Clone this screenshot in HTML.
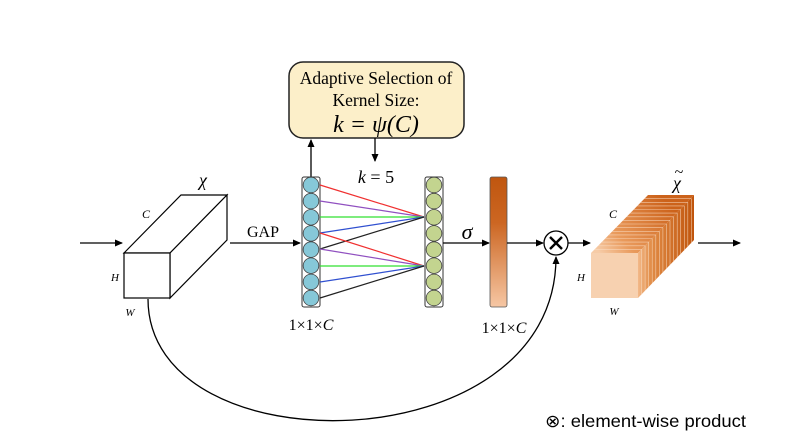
<!DOCTYPE html>
<html><head><meta charset="utf-8"><style>body{margin:0;background:#fff}svg{display:block}</style></head><body>
<svg width="808" height="448" viewBox="0 0 808 448" xmlns="http://www.w3.org/2000/svg" font-family="Liberation Serif, serif">
<defs>
<marker id="a" markerWidth="8" markerHeight="8" refX="7" refY="4" orient="auto" markerUnits="userSpaceOnUse"><path d="M0,0.5 L8,4 L0,7.5 Z" fill="#000"/></marker>
<linearGradient id="bar" x1="0" y1="0" x2="0" y2="1"><stop offset="0" stop-color="#c0560f"/><stop offset="0.35" stop-color="#cc6622"/><stop offset="1" stop-color="#f6c7a4"/></linearGradient>
<linearGradient id="side" x1="638" y1="0" x2="694" y2="0" gradientUnits="userSpaceOnUse"><stop offset="0" stop-color="#f2b888"/><stop offset="0.25" stop-color="#e08a44"/><stop offset="1" stop-color="#c0540c"/></linearGradient>
<linearGradient id="top" x1="600" y1="253" x2="660" y2="195" gradientUnits="userSpaceOnUse"><stop offset="0" stop-color="#f6cba6"/><stop offset="0.3" stop-color="#e99a5c"/><stop offset="1" stop-color="#cc621a"/></linearGradient>
</defs>
<line x1="80" y1="243" x2="122" y2="243" stroke="#000" stroke-width="1.3" marker-end="url(#a)"/>
<g fill="#fff" stroke="#000" stroke-width="1.2">
<polygon points="124,253 181,195 227,195 170,253"/>
<polygon points="170,253 227,195 227,240 170,298"/>
<rect x="124" y="253" width="46" height="45"/>
</g>
<text x="203" y="186" font-size="18" font-style="italic" text-anchor="middle">χ</text>
<text x="146" y="218" font-size="12" font-style="italic" text-anchor="middle">C</text>
<text x="115" y="281" font-size="11" font-style="italic" text-anchor="middle">H</text>
<text x="130" y="316" font-size="11" font-style="italic" text-anchor="middle">W</text>
<text x="263" y="237" font-size="16" text-anchor="middle">GAP</text>
<line x1="230" y1="243" x2="300" y2="243" stroke="#000" stroke-width="1.3" marker-end="url(#a)"/>
<rect x="289" y="62" width="175" height="76" rx="14" fill="#fcefc9" stroke="#222" stroke-width="1.5"/>
<text x="376" y="84" font-size="17.5" text-anchor="middle">Adaptive Selection of</text>
<text x="376" y="106" font-size="17.5" text-anchor="middle">Kernel Size:</text>
<text x="376" y="132" font-size="24" text-anchor="middle" font-style="italic">k = ψ(C)</text>
<line x1="311" y1="177" x2="311" y2="140" stroke="#000" stroke-width="1.3" marker-end="url(#a)"/>
<line x1="375" y1="138" x2="375" y2="161" stroke="#000" stroke-width="1.3" marker-end="url(#a)"/>
<text x="376" y="183" font-size="18" text-anchor="middle"><tspan font-style="italic">k</tspan> = 5</text>
<rect x="302" y="177" width="18" height="130" rx="2" fill="#fff" stroke="#333" stroke-width="1"/>
<rect x="425" y="177" width="18" height="130" rx="2" fill="#fff" stroke="#333" stroke-width="1"/>
<g stroke="#444" stroke-width="0.8">
<circle cx="311" cy="185" r="7.8" fill="#86c8d8"/><circle cx="311" cy="201.1" r="7.8" fill="#86c8d8"/><circle cx="311" cy="217.3" r="7.8" fill="#86c8d8"/><circle cx="311" cy="233.4" r="7.8" fill="#86c8d8"/><circle cx="311" cy="249.6" r="7.8" fill="#86c8d8"/><circle cx="311" cy="265.7" r="7.8" fill="#86c8d8"/><circle cx="311" cy="281.9" r="7.8" fill="#86c8d8"/><circle cx="311" cy="298" r="7.8" fill="#86c8d8"/>
<circle cx="434" cy="185" r="7.8" fill="#c3d48f"/><circle cx="434" cy="201.1" r="7.8" fill="#c3d48f"/><circle cx="434" cy="217.3" r="7.8" fill="#c3d48f"/><circle cx="434" cy="233.4" r="7.8" fill="#c3d48f"/><circle cx="434" cy="249.6" r="7.8" fill="#c3d48f"/><circle cx="434" cy="265.7" r="7.8" fill="#c3d48f"/><circle cx="434" cy="281.9" r="7.8" fill="#c3d48f"/><circle cx="434" cy="298" r="7.8" fill="#c3d48f"/>
</g>
<g stroke-width="1.2" fill="none">
<line x1="320" y1="185" x2="424" y2="217" stroke="#f03030"/>
<line x1="320" y1="201" x2="424" y2="217" stroke="#9050c0"/>
<line x1="320" y1="217" x2="424" y2="217" stroke="#30e030"/>
<line x1="320" y1="233" x2="424" y2="217" stroke="#3050d0"/>
<line x1="320" y1="249" x2="424" y2="217" stroke="#222"/>
<line x1="320" y1="233" x2="424" y2="266" stroke="#f03030"/>
<line x1="320" y1="249" x2="424" y2="266" stroke="#9050c0"/>
<line x1="320" y1="266" x2="424" y2="266" stroke="#30e030"/>
<line x1="320" y1="282" x2="424" y2="266" stroke="#3050d0"/>
<line x1="320" y1="298" x2="424" y2="266" stroke="#222"/>
</g>
<text x="311" y="330" font-size="16" text-anchor="middle">1×1×<tspan font-style="italic">C</tspan></text>
<text x="467" y="239" font-size="22" font-style="italic" text-anchor="middle">σ</text>
<line x1="443" y1="243" x2="489" y2="243" stroke="#000" stroke-width="1.3" marker-end="url(#a)"/>
<rect x="490" y="177" width="17" height="130" rx="2" fill="url(#bar)" stroke="#555" stroke-width="0.8"/>
<text x="504" y="333" font-size="16" text-anchor="middle">1×1×<tspan font-style="italic">C</tspan></text>
<line x1="507" y1="243" x2="543" y2="243" stroke="#000" stroke-width="1.3" marker-end="url(#a)"/>
<circle cx="556" cy="243" r="12" fill="#fff" stroke="#000" stroke-width="1.3"/>
<path d="M550,237 L562,249 M562,237 L550,249" stroke="#000" stroke-width="2.4"/>
<line x1="568" y1="243" x2="590" y2="243" stroke="#000" stroke-width="1.3" marker-end="url(#a)"/>
<path d="M148,299 C148,470 556,465 556,257" fill="none" stroke="#000" stroke-width="1.3" marker-end="url(#a)"/>
<!-- right cube -->
<polygon points="591,253 648,195 694,195 638,253" fill="url(#top)"/>
<polygon points="638,253 694,195 694,240 638,298" fill="url(#side)"/>
<g stroke="#fbe0c8" stroke-width="0.6" opacity="0.8">
<path d="M594.6,249.4 h47 M598.1,245.8 h47 M601.7,242.1 h47 M605.2,238.5 h47 M608.8,234.9 h47 M612.4,231.3 h47 M615.9,227.6 h47 M619.5,224 h47 M623,220.4 h47 M626.6,216.8 h47 M630.2,213.1 h47 M633.7,209.5 h47 M637.3,205.9 h47 M640.8,202.3 h47 M644.4,198.6 h47"/>
<path d="M641.6,249.4 v45 M645.1,245.8 v45 M648.7,242.1 v45 M652.2,238.5 v45 M655.8,234.9 v45 M659.4,231.3 v45 M662.9,227.6 v45 M666.5,224 v45 M670,220.4 v45 M673.6,216.8 v45 M677.2,213.1 v45 M680.7,209.5 v45 M684.3,205.9 v45 M687.8,202.3 v45 M691.4,198.6 v45"/>
</g>
<rect x="591" y="253" width="47" height="45" fill="#f7d1b0"/>
<text x="677" y="189" font-size="18" font-style="italic" text-anchor="middle">χ</text>
<text x="679" y="177" font-size="16" text-anchor="middle">~</text>
<text x="613" y="218" font-size="12" font-style="italic" text-anchor="middle">C</text>
<text x="581" y="281" font-size="11" font-style="italic" text-anchor="middle">H</text>
<text x="614" y="315" font-size="11" font-style="italic" text-anchor="middle">W</text>
<line x1="698" y1="243" x2="740" y2="243" stroke="#000" stroke-width="1.3" marker-end="url(#a)"/>
<text x="545" y="427" font-size="17.5" textLength="201" lengthAdjust="spacingAndGlyphs" font-family="Liberation Sans, sans-serif">⊗: element-wise product</text>
</svg>
</body></html>
